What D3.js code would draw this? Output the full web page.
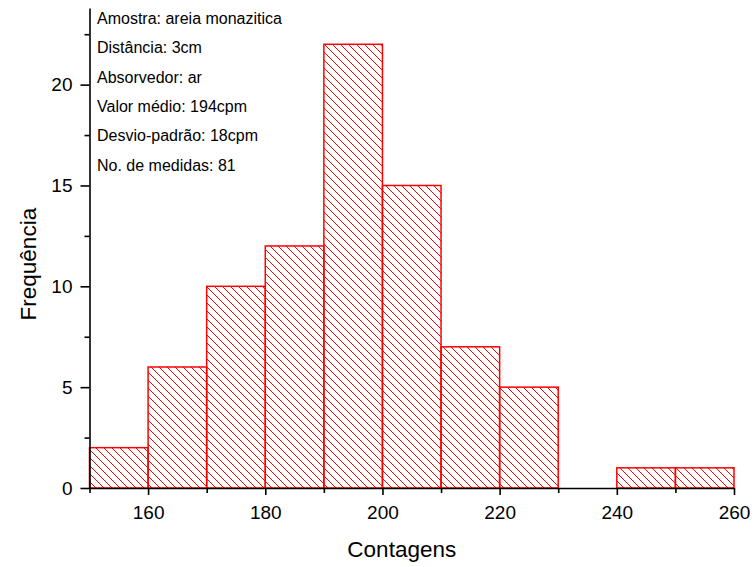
<!DOCTYPE html>
<html>
<head>
<meta charset="utf-8">
<script src="https://cdn.jsdelivr.net/npm/d3@7"></script>
<style>
  body { margin: 0; background: #fff; }
  text { font-family: "Liberation Sans", Arial, sans-serif; }
</style>
</head>
<body>
<div id="chartDiv"></div>
<script>
var width = 754,
    height = 567;

// bins of 10 cpm, counts
var binStarts = [150, 160, 170, 180, 190, 200, 210, 220, 230, 240, 250];
var counts = [2, 6, 10, 12, 22, 15, 7, 5, 0, 1, 1];
var binWidth = 10;

var xTicksMajor = [160, 180, 200, 220, 240, 260];
var xTicksMinor = [150, 170, 190, 210, 230, 250];
var yTicksMajor = [0, 5, 10, 15, 20];
var yTicksMinor = [2.5, 7.5, 12.5, 17.5, 22.5];

var notes = [
    "Amostra: areia monazitica",
    "Distância: 3cm",
    "Absorvedor: ar",
    "Valor médio: 194cpm",
    "Desvio-padrão: 18cpm",
    "No. de medidas: 81"
];

var svg = d3.select("#chartDiv")
    .append("svg")
    .attr("width", width)
    .attr("height", height);

// diagonal hatch "\\\"
var defs = svg.append("defs");
var pat = defs.append("pattern")
    .attr("id", "hatch")
    .attr("patternUnits", "userSpaceOnUse")
    .attr("width", 8)
    .attr("height", 8);
pat.append("path")
    .attr("d", "M-2,-2 L10,10 M-2,6 L2,10 M6,-2 L10,2")
    .attr("stroke", "#ff0000")
    .attr("stroke-width", 1)
    .attr("fill", "none");

var x = d3.scaleLinear()
    .domain([150, 260])
    .range([89.5, 734]);

var y = d3.scaleLinear()
    .domain([0, 23.8])
    .range([488, 8]);

// bars
svg.append("g")
    .selectAll("rect")
    .data(binStarts.map(function (s, i) { return { start: s, count: counts[i] }; })
        .filter(function (d) { return d.count > 0; }))
    .enter().append("rect")
    .attr("x", function (d) { return x(d.start); })
    .attr("y", function (d) { return y(d.count); })
    .attr("width", function (d) { return x(d.start + binWidth) - x(d.start); })
    .attr("height", function (d) { return y(0) - y(d.count); })
    .style("fill", "url(#hatch)")
    .style("stroke", "#ff0000")
    .style("stroke-width", 1.5);

// x axis
svg.append("g")
    .attr("transform", "translate(0," + y(0) + ")")
    .call(d3.axisBottom(x).tickValues(xTicksMajor).tickSize(7).tickPadding(11).tickSizeOuter(0));
svg.append("g")
    .attr("transform", "translate(0," + y(0) + ")")
    .call(d3.axisBottom(x).tickValues(xTicksMinor).tickSize(5).tickFormat("").tickSizeOuter(0))
    .select(".domain").remove();

// y axis
svg.append("g")
    .attr("transform", "translate(" + x(150) + ",0)")
    .call(d3.axisLeft(y).tickValues(yTicksMajor).tickSize(9).tickPadding(8).tickSizeOuter(0));
svg.append("g")
    .attr("transform", "translate(" + x(150) + ",0)")
    .call(d3.axisLeft(y).tickValues(yTicksMinor).tickSize(5).tickFormat("").tickSizeOuter(0))
    .select(".domain").remove();

svg.selectAll(".domain, .tick line")
    .attr("stroke", "#000")
    .attr("stroke-width", 1.6);

svg.selectAll(".tick text")
    .attr("fill", "#000")
    .style("font-size", "19px")
    .style("font-family", "'Liberation Sans', Arial, sans-serif");

// axis titles
svg.append("text")
    .attr("x", x(203.3))
    .attr("y", 557)
    .attr("text-anchor", "middle")
    .style("font-size", "22.5px")
    .text("Contagens");

svg.append("text")
    .attr("transform", "translate(36," + y(11.1) + ") rotate(-90)")
    .attr("text-anchor", "middle")
    .style("font-size", "22.5px")
    .text("Frequência");

// annotation block
svg.append("g")
    .selectAll("text")
    .data(notes)
    .enter().append("text")
    .attr("x", 97)
    .attr("y", function (d, i) { return 24 + i * 29.3; })
    .style("font-size", "16px")
    .text(function (d) { return d; });
</script>
</body>
</html>
